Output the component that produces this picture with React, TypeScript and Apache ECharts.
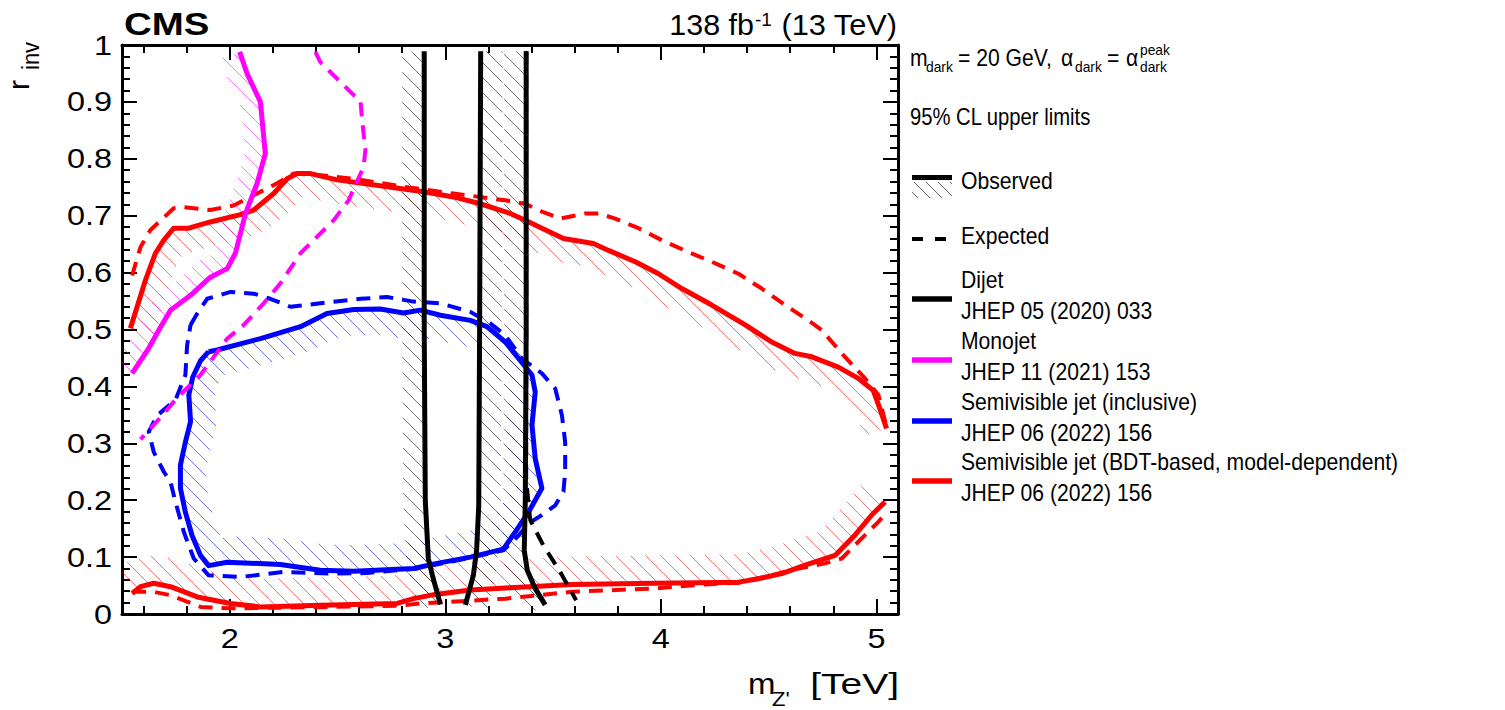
import React, { useEffect, useRef } from "react";
import * as echarts from "echarts";

type Pt = [number, number];

const FONT = '"Liberation Sans", Arial, Helvetica, sans-serif';

// ---------- axis tick labels ----------
const xTickValues = [2, 3, 4, 5];
const xTickLabels = ["2", "3", "4", "5"];
const yTickValues = [0, 0.1, 0.2, 0.3, 0.4, 0.5, 0.6, 0.7, 0.8, 0.9, 1];
const yTickLabels = ["0", "0.1", "0.2", "0.3", "0.4", "0.5", "0.6", "0.7", "0.8", "0.9", "1"];

// ---------- Dijet (black) ----------
const dijetObs1: Pt[] = [[2.902, 0.989], [2.902, 0.5], [2.907, 0.2], [2.921, 0.098], [2.94, 0.068], [2.977, 0.017]];
const dijetObs2: Pt[] = [[3.164, 0.989], [3.159, 0.5], [3.155, 0.19], [3.145, 0.112], [3.13, 0.068], [3.093, 0.016]];
const dijetObs3: Pt[] = [[3.375, 0.989], [3.375, 0.5], [3.371, 0.2], [3.366, 0.112], [3.38, 0.077], [3.417, 0.045], [3.463, 0.016]];
const dijetExp: Pt[] = [[3.375, 0.989], [3.375, 0.235], [3.394, 0.165], [3.454, 0.121], [3.533, 0.074], [3.607, 0.024]];

// ---------- Monojet (magenta) ----------
const monoObs: Pt[] = [
  [2.046, 0.988], [2.08, 0.95], [2.142, 0.9], [2.165, 0.809], [2.127, 0.757], [2.073, 0.704], [2.026, 0.634],
  [1.988, 0.607], [1.91, 0.592], [1.818, 0.56], [1.725, 0.534], [1.671, 0.499], [1.624, 0.467], [1.547, 0.423],
];
const monoExp: Pt[] = [
  [2.397, 0.988], [2.42, 0.97], [2.575, 0.912], [2.606, 0.903], [2.614, 0.868], [2.629, 0.816], [2.621, 0.786],
  [2.551, 0.727], [2.482, 0.692], [2.405, 0.663], [2.328, 0.634], [2.235, 0.581], [2.157, 0.546], [2.065, 0.508],
  [1.988, 0.484], [1.864, 0.42], [1.756, 0.38], [1.678, 0.345], [1.586, 0.307],
];

// ---------- Semivisible jet, inclusive (blue) ----------
const svjObs: Pt[] = [
  [1.902, 0.461], [1.941, 0.464], [2.142, 0.484], [2.328, 0.505], [2.451, 0.528], [2.575, 0.535], [2.698, 0.536],
  [2.806, 0.529], [2.884, 0.534], [2.977, 0.525], [3.116, 0.516], [3.193, 0.505], [3.278, 0.478], [3.34, 0.449],
  [3.402, 0.42], [3.417, 0.39], [3.402, 0.332], [3.417, 0.273], [3.448, 0.221], [3.386, 0.179], [3.324, 0.144],
  [3.269, 0.114], [3.116, 0.1], [2.961, 0.089], [2.853, 0.08], [2.575, 0.075], [2.42, 0.077], [2.235, 0.087],
  [1.988, 0.091], [1.902, 0.085], [1.864, 0.103], [1.825, 0.138], [1.794, 0.179], [1.771, 0.221], [1.771, 0.262],
  [1.794, 0.302], [1.818, 0.338], [1.81, 0.385], [1.828, 0.416], [1.864, 0.445], [1.902, 0.461],
];
const svjExp: Pt[] = [
  [1.818, 0.508], [1.849, 0.528], [1.895, 0.554], [2.003, 0.566], [2.111, 0.563], [2.188, 0.554], [2.281, 0.54],
  [2.42, 0.546], [2.606, 0.554], [2.73, 0.557], [2.853, 0.549], [2.977, 0.546], [3.116, 0.531], [3.208, 0.511],
  [3.278, 0.49], [3.355, 0.449], [3.448, 0.423], [3.51, 0.396], [3.541, 0.349], [3.556, 0.302], [3.556, 0.25],
  [3.548, 0.215], [3.51, 0.191], [3.448, 0.174], [3.386, 0.159], [3.34, 0.138], [3.27, 0.112], [3.1, 0.0975],
  [2.869, 0.08], [2.637, 0.072], [2.482, 0.071], [2.25, 0.074], [2.049, 0.065], [1.902, 0.068], [1.833, 0.0975],
  [1.787, 0.144], [1.748, 0.197], [1.725, 0.232], [1.694, 0.25], [1.647, 0.285], [1.624, 0.32], [1.663, 0.349],
  [1.748, 0.376], [1.794, 0.42], [1.802, 0.472], [1.818, 0.508],
];

// ---------- Semivisible jet, BDT-based (red) ----------
const bdtObsUpper: Pt[] = [
  [1.539, 0.502], [1.609, 0.587], [1.655, 0.634], [1.694, 0.657], [1.74, 0.678], [1.81, 0.678], [1.91, 0.689],
  [2.049, 0.702], [2.111, 0.71], [2.204, 0.739], [2.266, 0.765], [2.312, 0.774], [2.374, 0.774], [2.498, 0.763],
  [2.73, 0.751], [2.899, 0.742], [3.038, 0.733], [3.162, 0.721], [3.301, 0.704], [3.371, 0.692], [3.448, 0.678],
  [3.548, 0.66], [3.687, 0.651], [3.757, 0.639], [3.881, 0.619], [3.989, 0.598], [4.097, 0.572], [4.236, 0.543],
  [4.391, 0.508], [4.514, 0.478], [4.622, 0.458], [4.7, 0.452], [4.823, 0.434], [4.916, 0.414], [4.985, 0.393],
  [5.016, 0.361], [5.047, 0.326],
];
const bdtObsLower: Pt[] = [
  [1.547, 0.036], [1.586, 0.048], [1.647, 0.054], [1.725, 0.048], [1.849, 0.03], [2.003, 0.0185], [2.142, 0.0125],
  [2.42, 0.0155], [2.776, 0.0185], [2.853, 0.027], [2.946, 0.034], [3.116, 0.042], [3.301, 0.046], [3.587, 0.052],
  [3.973, 0.054], [4.36, 0.056], [4.452, 0.062], [4.561, 0.071], [4.669, 0.086], [4.808, 0.103], [4.901, 0.139],
  [4.978, 0.174], [5.04, 0.197],
];
const bdtExpUpper: Pt[] = [
  [1.547, 0.595], [1.586, 0.645], [1.632, 0.675], [1.74, 0.713], [1.787, 0.715], [1.91, 0.71], [2.018, 0.718],
  [2.127, 0.739], [2.22, 0.757], [2.296, 0.774], [2.42, 0.771], [2.575, 0.765], [2.806, 0.751], [3.038, 0.739],
  [3.278, 0.727], [3.371, 0.721], [3.448, 0.707], [3.533, 0.695], [3.649, 0.704], [3.711, 0.704], [3.788, 0.695],
  [3.896, 0.678], [4.004, 0.657], [4.128, 0.636], [4.236, 0.619], [4.36, 0.598], [4.468, 0.572], [4.576, 0.543],
  [4.684, 0.516], [4.746, 0.499], [4.839, 0.458], [4.947, 0.414], [5.009, 0.385], [5.044, 0.333],
];
const bdtExpLower: Pt[] = [
  [1.547, 0.039], [1.647, 0.039], [1.725, 0.033], [1.864, 0.0125], [2.003, 0.01], [2.42, 0.012], [2.791, 0.0146],
  [2.884, 0.0185], [3.278, 0.027], [3.587, 0.039], [3.973, 0.045], [4.205, 0.052], [4.36, 0.055], [4.514, 0.068],
  [4.638, 0.08], [4.761, 0.089], [4.839, 0.0975], [4.916, 0.127], [5.009, 0.162], [5.048, 0.179],
];

// ---------- colours ----------
const RED = "#ff0000";
const BLUE = "#0000ff";
const MAGENTA = "#ff00ff";
const BLACK = "#000000";

// exclusion hatch bands: side +1 = right of travel direction (screen), -1 = left
const hatchSpecs = [
  { pts: bdtObsUpper, side: 1, width: 24, color: "rgba(255,0,0,0.55)" },
  { pts: bdtObsLower, side: -1, width: 28, color: "rgba(255,0,0,0.55)" },
  { pts: svjObs, side: 1, width: 26, color: "rgba(0,0,255,0.55)" },
  { pts: monoObs, side: 1, width: 20, color: "rgba(255,0,255,0.55)" },
  { pts: dijetObs1, side: 1, width: 22, color: "rgba(0,0,0,0.55)" },
  { pts: dijetObs2, side: -1, width: 22, color: "rgba(0,0,0,0.55)" },
  { pts: dijetObs3, side: 1, width: 22, color: "rgba(0,0,0,0.55)" },
];

function bandPolygon(px: number[][], side: number, w: number): number[][] {
  const n = px.length;
  const closed = n > 2 && Math.abs(px[0][0] - px[n - 1][0]) < 0.5 && Math.abs(px[0][1] - px[n - 1][1]) < 0.5;
  const normals: number[][] = [];
  const addN = (acc: number[], a: number[], b: number[]) => {
    const dx = b[0] - a[0];
    const dy = b[1] - a[1];
    const L = Math.hypot(dx, dy) || 1;
    acc[0] += (-dy / L) * side;
    acc[1] += (dx / L) * side;
  };
  for (let i = 0; i < n; i++) {
    const acc = [0, 0];
    if (i > 0) addN(acc, px[i - 1], px[i]);
    else if (closed) addN(acc, px[n - 2], px[0]);
    if (i < n - 1) addN(acc, px[i], px[i + 1]);
    else if (closed) addN(acc, px[n - 1], px[1]);
    const L = Math.hypot(acc[0], acc[1]) || 1;
    normals.push([acc[0] / L, acc[1] / L]);
  }
  const off = px.map((p, i) => [p[0] + normals[i][0] * w, p[1] + normals[i][1] * w]);
  return px.concat(off.reverse());
}

function hatchSegments(poly: number[][], spacing: number): number[][] {
  let cmin = Infinity;
  let cmax = -Infinity;
  for (const p of poly) {
    const c = p[1] - p[0];
    if (c < cmin) cmin = c;
    if (c > cmax) cmax = c;
  }
  const segs: number[][] = [];
  for (let c = Math.ceil(cmin / spacing) * spacing; c <= cmax; c += spacing) {
    const xs: number[] = [];
    for (let i = 0; i < poly.length; i++) {
      const a = poly[i];
      const b = poly[(i + 1) % poly.length];
      const ca = a[1] - a[0];
      const cb = b[1] - b[0];
      if ((ca < c && cb >= c) || (cb < c && ca >= c)) {
        const t = (c - ca) / (cb - ca);
        xs.push(a[0] + t * (b[0] - a[0]));
      }
    }
    xs.sort((m, k) => m - k);
    for (let k = 0; k + 1 < xs.length; k += 2) segs.push([xs[k], xs[k] + c, xs[k + 1], xs[k + 1] + c]);
  }
  return segs;
}

function lineSeries(name: string, data: Pt[], color: string, width: number, dashed: boolean, z: number) {
  return {
    type: "line",
    name,
    data,
    xAxisIndex: 0,
    yAxisIndex: 0,
    showSymbol: false,
    symbol: "none",
    smooth: false,
    silent: true,
    z,
    lineStyle: { color, width, type: dashed ? [14, 9] : "solid", cap: "butt", join: "round" },
  };
}

function txt(text: string, x: number, y: number, size: number, opts: any = {}) {
  const align = opts.align || "left";
  const style: any = {
    text,
    font: `${opts.bold ? "bold " : ""}${size}px ${FONT}`,
    fill: "#000",
    align,
    textAlign: align,
    verticalAlign: "middle",
    textVerticalAlign: "middle",
  };
  if (opts.lineHeight) style.lineHeight = opts.lineHeight;
  return {
    type: "text",
    x,
    y,
    scaleX: opts.scaleX ?? 1,
    scaleY: opts.scaleY ?? 1,
    rotation: opts.rotation ?? 0,
    silent: true,
    style,
  };
}

function seg(x1: number, y1: number, x2: number, y2: number, color: string, width: number, dash?: number[]) {
  return {
    type: "line",
    silent: true,
    shape: { x1, y1, x2, y2 },
    style: { stroke: color, lineWidth: width, lineDash: dash },
  };
}

function buildGraphic() {
  const L = 0.92;
  const els: any[] = [];
  // header
  els.push(txt("CMS", 124, 24, 32, { bold: true, scaleX: 1.2 }));
  els.push(txt("138 fb", 754, 25, 29, { align: "right", scaleX: 1.05 }));
  els.push(txt("-1", 755, 19, 19, { scaleX: 1.0 }));
  els.push(txt("(13 TeV)", 897, 25, 29, { align: "right", scaleX: 1.06 }));
  // axis titles
  els.push(txt("m", 748, 684, 30, { scaleX: 1.1 }));
  els.push(txt("Z'", 772, 699, 21, { scaleX: 1.05 }));
  els.push(txt("[TeV]", 899, 684, 30, { align: "right", scaleX: 1.3 }));
  els.push(txt("r", 18, 90, 30, { rotation: Math.PI / 2 }));
  els.push(txt("inv", 31, 70, 22, { rotation: Math.PI / 2, scaleY: 1.05 }));
  // model line
  els.push(txt("m", 910, 58, 23, { scaleX: L }));
  els.push(txt("dark", 926, 67, 15, { scaleX: L }));
  els.push(txt("= 20 GeV,", 958, 58, 23, { scaleX: L }));
  els.push(txt("\u03b1", 1061, 58, 23, { scaleX: L }));
  els.push(txt("dark", 1075, 67, 15, { scaleX: L }));
  els.push(txt("=", 1107, 58, 23, { scaleX: L }));
  els.push(txt("\u03b1", 1126, 58, 23, { scaleX: L }));
  els.push(txt("peak", 1140, 50, 15, { scaleX: L }));
  els.push(txt("dark", 1140, 67, 15, { scaleX: L }));
  els.push(txt("95% CL upper limits", 910, 117, 23, { scaleX: 0.88 }));
  // legend entries
  const TX = 961;
  els.push(seg(912, 177.5, 952, 177.5, BLACK, 5));
  const box = [[912, 182], [952, 182], [952, 198], [912, 198]];
  for (const s of hatchSegments(box, 12)) els.push(seg(s[0], s[1], s[2], s[3], "rgba(0,0,0,0.6)", 1));
  els.push(txt("Observed", TX, 181, 23, { scaleX: L }));
  els.push(seg(912, 239, 948, 239, BLACK, 4, [11, 12]));
  els.push(txt("Expected", TX, 236, 23, { scaleX: L }));
  const entries: [string, string, string, number][] = [
    ["Dijet", "JHEP 05 (2020) 033", BLACK, 280],
    ["Monojet", "JHEP 11 (2021) 153", MAGENTA, 341],
    ["Semivisible jet (inclusive)", "JHEP 06 (2022) 156", BLUE, 402],
    ["Semivisible jet (BDT-based, model-dependent)", "JHEP 06 (2022) 156", RED, 462],
  ];
  for (const [a, b, c, y] of entries) {
    els.push(seg(912, y + 19, 952, y + 19, c, 5.5));
    els.push(txt(a, TX, y, 23, { scaleX: L }));
    els.push(txt(b, TX, y + 31, 23, { scaleX: L }));
  }
  return els;
}

const frameLine = { show: true, onZero: false, lineStyle: { color: "#000", width: 3 } };
const majorTick = { show: true, inside: true, length: 15, lineStyle: { color: "#000", width: 2 } };
const minorTickX = { show: true, inside: true, length: 8, lineStyle: { color: "#000", width: 2 } };

function xAxisDef(position: string, major: boolean) {
  return {
    type: "value",
    position,
    min: 1.5,
    max: 5.1,
    splitNumber: major ? 4 : 18,
    minInterval: major ? 1 : 0.2,
    maxInterval: major ? 1 : 0.2,
    axisLine: major ? frameLine : { show: false, onZero: false },
    axisTick: major ? majorTick : minorTickX,
    axisLabel: { show: false },
    splitLine: { show: false },
  };
}

function yAxisDef(position: string) {
  return {
    type: "value",
    position,
    min: 0,
    max: 1,
    interval: 0.1,
    axisLine: frameLine,
    axisTick: majorTick,
    minorTick: { show: true, splitNumber: 5, length: 8, lineStyle: { color: "#000", width: 2 } },
    axisLabel: { show: false },
    splitLine: { show: false },
    minorSplitLine: { show: false },
  };
}

function buildOption() {
  const series: any[] = [];
  series.push({
    type: "custom",
    name: "hatch",
    coordinateSystem: "cartesian2d",
    xAxisIndex: 0,
    yAxisIndex: 0,
    clip: true,
    silent: true,
    z: 1,
    data: hatchSpecs.map(() => [3, 0.5]),
    renderItem: (params: any, api: any) => {
      const spec = hatchSpecs[params.dataIndex];
      const px = spec.pts.map((p) => api.coord(p));
      const poly = bandPolygon(px, spec.side, spec.width);
      const segs = hatchSegments(poly, 15);
      return {
        type: "group",
        children: segs.map((s) => ({
          type: "line",
          shape: { x1: s[0], y1: s[1], x2: s[2], y2: s[3] },
          style: { stroke: spec.color, lineWidth: 1 },
        })),
      };
    },
  });
  series.push(lineSeries("bdtExpUpper", bdtExpUpper, RED, 4, true, 2));
  series.push(lineSeries("bdtExpLower", bdtExpLower, RED, 4, true, 2));
  series.push(lineSeries("bdtObsUpper", bdtObsUpper, RED, 5, false, 2));
  series.push(lineSeries("bdtObsLower", bdtObsLower, RED, 5, false, 2));
  series.push(lineSeries("svjExp", svjExp, BLUE, 4, true, 3));
  series.push(lineSeries("svjObs", svjObs, BLUE, 5, false, 3));
  series.push(lineSeries("monoExp", monoExp, MAGENTA, 4, true, 4));
  series.push(lineSeries("monoObs", monoObs, MAGENTA, 5, false, 4));
  series.push(lineSeries("dijetExp", dijetExp, BLACK, 4, true, 5));
  series.push(lineSeries("dijetObs1", dijetObs1, BLACK, 5, false, 5));
  series.push(lineSeries("dijetObs2", dijetObs2, BLACK, 5, false, 5));
  series.push(lineSeries("dijetObs3", dijetObs3, BLACK, 5, false, 5));
  // tick labels
  series.push({
    type: "custom",
    name: "xlabels",
    coordinateSystem: "cartesian2d",
    xAxisIndex: 0,
    yAxisIndex: 0,
    clip: false,
    silent: true,
    z: 6,
    data: xTickValues.map((v) => [v, 0]),
    renderItem: (params: any, api: any) => {
      const p = api.coord([api.value(0), 0]);
      return {
        type: "text",
        x: p[0],
        y: p[1] + 24,
        scaleX: 1.2,
        style: {
          text: xTickLabels[params.dataIndex],
          font: `27px ${FONT}`,
          fill: "#000",
          align: "center",
          textAlign: "center",
          verticalAlign: "middle",
          textVerticalAlign: "middle",
        },
      };
    },
  });
  series.push({
    type: "custom",
    name: "ylabels",
    coordinateSystem: "cartesian2d",
    xAxisIndex: 0,
    yAxisIndex: 0,
    clip: false,
    silent: true,
    z: 6,
    data: yTickValues.map((v) => [1.5, v]),
    renderItem: (params: any, api: any) => {
      const p = api.coord([1.5, api.value(1)]);
      return {
        type: "text",
        x: p[0] - 10,
        y: p[1],
        scaleX: 1.2,
        style: {
          text: yTickLabels[params.dataIndex],
          font: `27px ${FONT}`,
          fill: "#000",
          align: "right",
          textAlign: "right",
          verticalAlign: "middle",
          textVerticalAlign: "middle",
        },
      };
    },
  });

  return {
    animation: false,
    backgroundColor: "#ffffff",
    grid: { left: 122, top: 45, width: 776, height: 569, containLabel: false, outerBoundsMode: "none", show: false },
    xAxis: [xAxisDef("bottom", true), xAxisDef("bottom", false), xAxisDef("top", true), xAxisDef("top", false)],
    yAxis: [yAxisDef("left"), yAxisDef("right")],
    series,
    graphic: { elements: buildGraphic() },
  };
}

export default function App() {
  const ref = useRef<HTMLDivElement>(null);
  useEffect(() => {
    if (!ref.current) return;
    const chart = echarts.init(ref.current, null, { renderer: "svg" });
    chart.setOption(buildOption() as any);
    return () => chart.dispose();
  }, []);
  return (
    <div
      ref={ref}
      style={{ position: "fixed", left: 0, top: 0, width: 1505, height: 710, background: "#fff" }}
    />
  );
}
